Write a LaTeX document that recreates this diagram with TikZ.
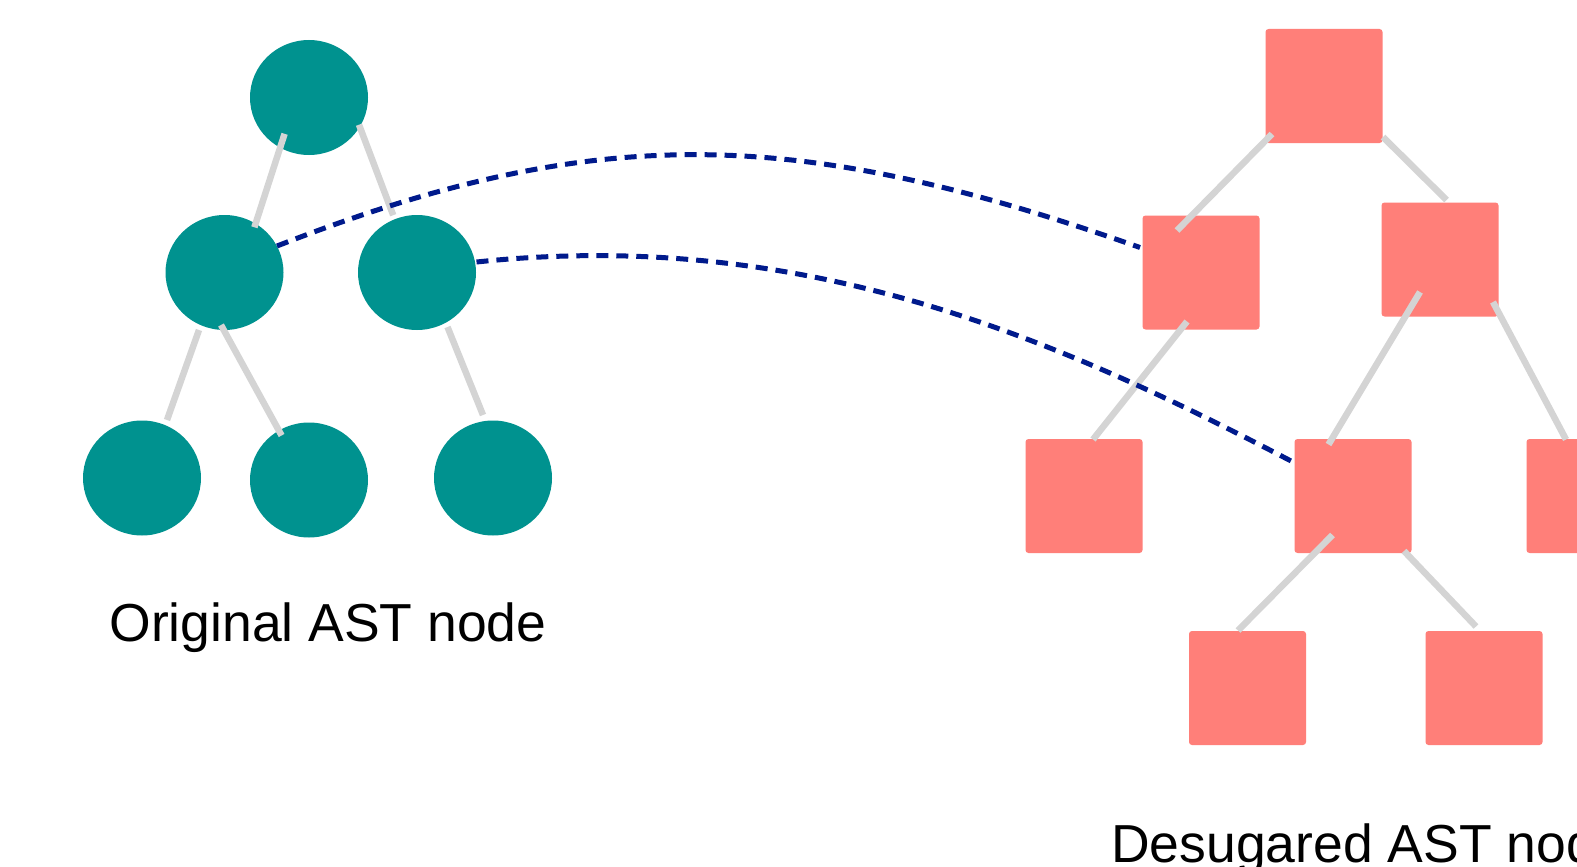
\documentclass[tikz,border=0pt]{standalone}
\usepackage{fontspec}
\setmainfont{Liberation Sans}
\usetikzlibrary{shapes.geometric}
\definecolor{teal1}{HTML}{00928F}
\definecolor{salmon1}{HTML}{FF7F79}
\definecolor{edgegray}{HTML}{D4D4D4}
\definecolor{navy1}{HTML}{001A8C}
\tikzset{
  orignode/.style={ellipse, fill=teal1, draw=none, minimum width=118pt, minimum height=115pt, inner sep=0pt},
  sugnode/.style={rectangle, rounded corners=3pt, fill=salmon1, draw=none, minimum width=117pt, minimum height=114pt, inner sep=0pt},
  treeedge/.style={draw=edgegray, line width=6.5pt},
  mapedge/.style={draw=navy1, line width=5pt, dash pattern=on 12pt off 8pt},
  label1/.style={inner sep=0pt, font=\fontsize{53.5}{60}\selectfont}
}
\begin{document}
\begin{tikzpicture}[x=1pt,y=-1pt]
\useasboundingbox (0,0) rectangle (1577,867);
\clip (0,0) rectangle (1577,867);
\fill[white] (0,0) rectangle (1577,867);
% original AST
\node[orignode] (o0) at (309,97.5) {};
\node[orignode] (o1) at (224.5,272.5) {};
\node[orignode] (o2) at (417,272.5) {};
\node[orignode] (o3) at (142,478) {};
\node[orignode] (o4) at (309,480) {};
\node[orignode] (o5) at (493,478) {};
% desugared AST
\node[sugnode] (s0) at (1324,86) {};
\node[sugnode] (s1) at (1201,272.5) {};
\node[sugnode] (s2) at (1440,259.5) {};
\node[sugnode] (s3) at (1084,496) {};
\node[sugnode] (s4) at (1353,496) {};
\node[sugnode] (s5) at (1585,496) {};
\node[sugnode] (s6) at (1247.5,688) {};
\node[sugnode] (s7) at (1484,688) {};
% tree edges, original
\draw[treeedge] ([shift={(-24.4,36.3)}]o0.center) -- ([shift={(29.9,-45.2)}]o1.center);
\draw[treeedge] ([shift={(50,27.2)}]o0.center) -- ([shift={(-23.8,-57.3)}]o2.center);
\draw[treeedge] ([shift={(-25.5,57.5)}]o1.center) -- ([shift={(25,-58)}]o3.center);
\draw[treeedge] ([shift={(-3.5,52.5)}]o1.center) -- ([shift={(-27.4,-44.5)}]o4.center);
\draw[treeedge] ([shift={(30.5,54.5)}]o2.center) -- ([shift={(-10,-63)}]o5.center);
% tree edges, desugared
\draw[treeedge] ([shift={(-52,48)}]s0.center) -- ([shift={(-24,-42)}]s1.center);
\draw[treeedge] ([shift={(59,51)}]s0.center) -- ([shift={(6.5,-59.5)}]s2.center);
\draw[treeedge] ([shift={(-14,49)}]s1.center) -- ([shift={(9,-56.5)}]s3.center);
\draw[treeedge] ([shift={(-20,32.5)}]s2.center) -- ([shift={(-24.5,-51.5)}]s4.center);
\draw[treeedge] ([shift={(53,42.5)}]s2.center) -- ([shift={(-19,-56.5)}]s5.center);
\draw[treeedge] ([shift={(-20.5,39)}]s4.center) -- ([shift={(-9.5,-57.5)}]s6.center);
\draw[treeedge] ([shift={(51,55)}]s4.center) -- ([shift={(-8,-61.5)}]s7.center);
% mapping edges
\draw[mapedge] ([shift={(52.5,-26.5)}]o1.center) .. controls (600,120) and (800,128) .. ([shift={(-61,-25)}]s1.center);
\draw[mapedge] ([shift={(59.5,-10.5)}]o2.center) .. controls (800,228) and (1050,335) .. ([shift={(-61,-34.5)}]s4.center);
% labels
\node[label1, anchor=base] (t1) at (328,641) {Original AST node};
\node[label1, anchor=base west] (t2) at (1111,862) {Desugared AST node};
\end{tikzpicture}
\end{document}
